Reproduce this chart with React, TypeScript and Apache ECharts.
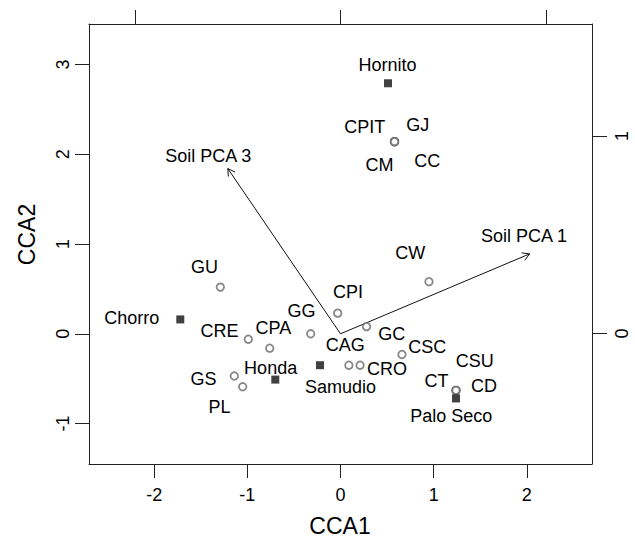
import React, { useEffect, useRef } from "react";
import * as echarts from "echarts";

// Sites (filled squares)
const siteNames = ["Hornito", "Chorro", "Honda", "Samudio", "Palo Seco"];
const siteX = [0.51, -1.72, -0.70, -0.22, 1.24];
const siteY = [2.79, 0.16, -0.51, -0.35, -0.72];
const siteLabelX = [0.505, -2.24, -0.75, 0.0, 1.19];
const siteLabelY = [2.99, 0.18, -0.38, -0.59, -0.92];

// Species (open circles)
const speciesNames = ["CPIT", "GJ", "CM", "CC", "CW", "GU", "CRE", "CPA", "GS", "PL", "GG", "CPI", "GC", "CAG", "CRO", "CSC", "CSU", "CT", "CD"];
const speciesX = [0.58, 0.58, 0.58, 0.58, 0.95, -1.29, -0.99, -0.76, -1.14, -1.05, -0.32, -0.03, 0.28, 0.09, 0.21, 0.66, 1.24, 1.24, 1.24];
const speciesY = [2.14, 2.14, 2.14, 2.14, 0.58, 0.52, -0.06, -0.16, -0.47, -0.59, 0.0, 0.23, 0.08, -0.35, -0.35, -0.23, -0.63, -0.63, -0.63];
const speciesLabelX = [0.26, 0.83, 0.42, 0.93, 0.75, -1.46, -1.30, -0.72, -1.47, -1.30, -0.42, 0.08, 0.55, 0.05, 0.50, 0.93, 1.44, 1.03, 1.54];
const speciesLabelY = [2.30, 2.32, 1.88, 1.92, 0.90, 0.74, 0.03, 0.06, -0.50, -0.82, 0.25, 0.47, 0.0, -0.13, -0.39, -0.15, -0.30, -0.53, -0.58];

// Biplot arrows (environmental variables)
const arrowNames = ["Soil PCA 1", "Soil PCA 3"];
const arrowX = [2.03, -1.21];
const arrowY = [0.89, 1.84];
const arrowLabelX = [1.97, -1.42];
const arrowLabelY = [1.09, 1.98];

// Axes
const xTicks = [-2, -1, 0, 1, 2];
const yTicks = [-1, 0, 1, 2, 3];
const topTicks = [-1, 0, 1];
const rightTicks = [0, 1];

const FONT = "'Liberation Sans', Arial, Helvetica, sans-serif";
const INK = "#000";

export default function App() {
  const ref = useRef<HTMLDivElement>(null);

  useEffect(() => {
    if (!ref.current) return;
    const chart = echarts.init(ref.current, null, { renderer: "svg" });

    const labelData = [
      ...speciesNames.map((n, i) => ({ name: n, value: [speciesLabelX[i], speciesLabelY[i]] })),
      ...siteNames.map((n, i) => ({ name: n, value: [siteLabelX[i], siteLabelY[i]] })),
      ...arrowNames.map((n, i) => ({ name: n, value: [arrowLabelX[i], arrowLabelY[i]] })),
    ];

    const axisLineStyle = { color: "#222", width: 1 };

    const option: any = {
      animation: false,
      backgroundColor: "#fff",
      textStyle: { fontFamily: FONT },
      grid: {
        left: 89,
        top: 24,
        right: 43,
        bottom: 74,
        containLabel: false,
        outerBoundsMode: "none",
      },
      xAxis: [
        {
          type: "value",
          position: "bottom",
          min: -2.7,
          max: 2.7,
          axisLine: { show: true, onZero: false, lineStyle: axisLineStyle },
          axisTick: { show: true, length: 14, customValues: xTicks, lineStyle: axisLineStyle },
          axisLabel: { show: true, customValues: xTicks, margin: 22, fontSize: 18, color: INK, fontFamily: FONT },
          splitLine: { show: false },
        },
        {
          type: "value",
          position: "top",
          min: -1.2225,
          max: 1.2225,
          axisLine: { show: true, onZero: false, lineStyle: axisLineStyle },
          axisTick: { show: true, length: 14, customValues: topTicks, lineStyle: axisLineStyle },
          axisLabel: { show: false },
          splitLine: { show: false },
        },
      ],
      yAxis: [
        {
          type: "value",
          position: "left",
          min: -1.45,
          max: 3.45,
          axisLine: { show: true, onZero: false, lineStyle: axisLineStyle },
          axisTick: { show: true, length: 14, customValues: yTicks, lineStyle: axisLineStyle },
          axisLabel: { show: true, customValues: yTicks, rotate: 90, margin: 17, fontSize: 18, color: INK, fontFamily: FONT },
          splitLine: { show: false },
        },
        {
          type: "value",
          position: "right",
          min: -0.6606,
          max: 1.5665,
          axisLine: { show: true, onZero: false, lineStyle: axisLineStyle },
          axisTick: { show: true, length: 15, customValues: rightTicks, lineStyle: axisLineStyle },
          axisLabel: { show: true, customValues: rightTicks, rotate: 90, margin: 21, fontSize: 18, color: INK, fontFamily: FONT },
          splitLine: { show: false },
        },
      ],
      graphic: [
        {
          type: "text",
          x: 340,
          y: 526,
          style: { text: "CCA1", font: `23px ${FONT}`, fill: INK, align: "center", verticalAlign: "middle" },
        },
        {
          type: "text",
          x: 27,
          y: 234.5,
          rotation: Math.PI / 2,
          style: { text: "CCA2", font: `23px ${FONT}`, fill: INK, align: "center", verticalAlign: "middle" },
        },
      ],
      series: [
        {
          type: "custom",
          xAxisIndex: 0,
          yAxisIndex: 0,
          silent: true,
          data: arrowX.map((x, i) => [x, arrowY[i]]),
          renderItem: (_params: any, api: any) => {
            const p0 = api.coord([0, 0]);
            const p1 = api.coord([api.value(0), api.value(1)]);
            const ang = Math.atan2(p1[1] - p0[1], p1[0] - p0[0]);
            const L = 8;
            const a = Math.PI / 6;
            const h1 = [p1[0] - L * Math.cos(ang - a), p1[1] - L * Math.sin(ang - a)];
            const h2 = [p1[0] - L * Math.cos(ang + a), p1[1] - L * Math.sin(ang + a)];
            return {
              type: "group",
              children: [
                { type: "line", shape: { x1: p0[0], y1: p0[1], x2: p1[0], y2: p1[1] }, style: { stroke: "#111", lineWidth: 1 } },
                { type: "polyline", shape: { points: [h1, p1, h2] }, style: { stroke: "#111", fill: "none", lineWidth: 1 } },
              ],
            };
          },
        },
        {
          type: "scatter",
          name: "species",
          xAxisIndex: 0,
          yAxisIndex: 0,
          symbol: "circle",
          symbolSize: 7.5,
          itemStyle: { color: "#fff", borderColor: "#6a6a6a", borderWidth: 1.8 },
          data: speciesNames.map((n, i) => ({ name: n, value: [speciesX[i], speciesY[i]] })),
          silent: true,
        },
        {
          type: "scatter",
          name: "sites",
          xAxisIndex: 0,
          yAxisIndex: 0,
          symbol: "rect",
          symbolSize: 8,
          itemStyle: { color: "#111" },
          data: siteNames.map((n, i) => ({ name: n, value: [siteX[i], siteY[i]] })),
          silent: true,
        },
        {
          type: "scatter",
          name: "labels",
          xAxisIndex: 0,
          yAxisIndex: 0,
          symbolSize: 1,
          itemStyle: { color: "rgba(0,0,0,0)" },
          silent: true,
          label: {
            show: true,
            position: "inside",
            formatter: (p: any) => p.name,
            fontSize: 18,
            color: INK,
            fontFamily: FONT,
            textBorderWidth: 0,
            opacity: 1,
          },
          data: labelData,
        },
      ],
    };

    chart.setOption(option);
    return () => chart.dispose();
  }, []);

  return (
    <div
      ref={ref}
      style={{ position: "absolute", left: 0, top: 0, width: 635, height: 538, background: "#fff" }}
    />
  );
}
